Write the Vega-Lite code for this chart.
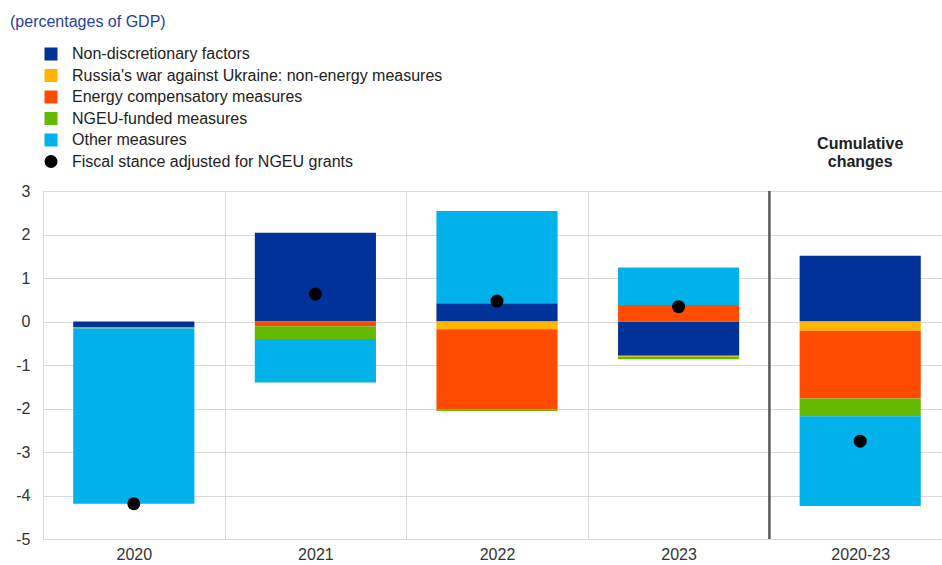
{
  "$schema": "https://vega.github.io/schema/vega-lite/v6.json",
  "width": 899,
  "height": 348,
  "autosize": {"type": "none"},
  "padding": {"left": 43, "top": 191, "right": 0, "bottom": 26},
  "title": {
    "text": "(percentages of GDP)",
    "anchor": "start",
    "frame": "group",
    "orient": "top",
    "dx": -33,
    "offset": 3,
    "fontSize": 16,
    "fontWeight": "normal",
    "font": "Liberation Sans",
    "color": "#1f3fa3",
    "baseline": "alphabetic"
  },
  "config": {
    "font": "Liberation Sans",
    "view": {"stroke": null},
    "axis": {"labelFont": "Liberation Sans", "labelFontSize": 16, "labelColor": "#333333", "gridColor": "#d9d9d9", "gridWidth": 1}
  },
  "datasets": {
    "bars": [
      {"year": "2020", "series": "Non-discretionary factors", "value": -0.13},
      {"year": "2020", "series": "NGEU-funded measures", "value": -0.03},
      {"year": "2020", "series": "Other measures", "value": -4.03},
      {"year": "2021", "series": "Non-discretionary factors", "value": 2.04},
      {"year": "2021", "series": "Energy compensatory measures", "value": -0.11},
      {"year": "2021", "series": "NGEU-funded measures", "value": -0.29},
      {"year": "2021", "series": "Other measures", "value": -1.0},
      {"year": "2022", "series": "Non-discretionary factors", "value": 0.42},
      {"year": "2022", "series": "Russia's war against Ukraine: non-energy measures", "value": -0.18},
      {"year": "2022", "series": "Energy compensatory measures", "value": -1.84},
      {"year": "2022", "series": "NGEU-funded measures", "value": -0.04},
      {"year": "2022", "series": "Other measures", "value": 2.12},
      {"year": "2023", "series": "Non-discretionary factors", "value": -0.79},
      {"year": "2023", "series": "Russia's war against Ukraine: non-energy measures", "value": -0.02},
      {"year": "2023", "series": "Energy compensatory measures", "value": 0.38},
      {"year": "2023", "series": "NGEU-funded measures", "value": -0.06},
      {"year": "2023", "series": "Other measures", "value": 0.86},
      {"year": "2020-23", "series": "Non-discretionary factors", "value": 1.51},
      {"year": "2020-23", "series": "Russia's war against Ukraine: non-energy measures", "value": -0.21},
      {"year": "2020-23", "series": "Energy compensatory measures", "value": -1.56},
      {"year": "2020-23", "series": "NGEU-funded measures", "value": -0.41},
      {"year": "2020-23", "series": "Other measures", "value": -2.06}
    ],
    "dots": [
      {"year": "2020", "series": "Fiscal stance adjusted for NGEU grants", "value": -4.19},
      {"year": "2021", "series": "Fiscal stance adjusted for NGEU grants", "value": 0.63},
      {"year": "2022", "series": "Fiscal stance adjusted for NGEU grants", "value": 0.47},
      {"year": "2023", "series": "Fiscal stance adjusted for NGEU grants", "value": 0.34},
      {"year": "2020-23", "series": "Fiscal stance adjusted for NGEU grants", "value": -2.75}
    ],
    "separator": [{"year": "2020-23", "label": "Cumulative changes", "top": 3}]
  },
  "layer": [
    {
      "data": {"name": "bars"},
      "mark": {"type": "bar", "width": {"band": 0.667}},
      "encoding": {
        "x": {
          "field": "year", "type": "nominal",
          "sort": ["2020", "2021", "2022", "2023", "2020-23"],
          "scale": {"paddingInner": 0, "paddingOuter": 0, "range": [0, 908]},
          "axis": {"title": null, "labelAngle": 0, "grid": true, "tickBand": "extent", "ticks": false, "domain": false, "labelPadding": 7}
        },
        "y": {
          "field": "value", "type": "quantitative", "stack": "zero",
          "scale": {"domain": [-5, 3], "nice": false},
          "axis": {"title": null, "values": [-5, -4, -3, -2, -1, 0, 1, 2, 3], "labelExpr": "toString(datum.value)", "ticks": false, "domain": false, "labelPadding": 13, "grid": true}
        },
        "color": {
          "field": "series", "type": "nominal",
          "scale": {
            "domain": ["Non-discretionary factors", "Russia's war against Ukraine: non-energy measures", "Energy compensatory measures", "NGEU-funded measures", "Other measures", "Fiscal stance adjusted for NGEU grants"],
            "range": ["#003299", "#ffb400", "#ff4b00", "#65b800", "#00b1ea", "#000000"]
          },
          "legend": {
            "title": null, "orient": "none", "legendX": 0, "legendY": -145, "padding": 0,
            "labelFontSize": 16, "labelColor": "#222222", "labelFont": "Liberation Sans", "labelLimit": 600,
            "symbolSize": 169, "rowPadding": 5.5, "labelOffset": 13, "symbolStrokeWidth": 0
          }
        },
        "order": {"field": "ord", "type": "quantitative"}
      }
    },
    {
      "data": {"name": "dots"},
      "mark": {"type": "point", "filled": true, "size": 169, "opacity": 1},
      "encoding": {
        "x": {"field": "year", "type": "nominal", "sort": ["2020", "2021", "2022", "2023", "2020-23"]},
        "y": {"field": "value", "type": "quantitative"},
        "color": {"field": "series", "type": "nominal"},
        "shape": {
          "field": "series", "type": "nominal",
          "scale": {
            "domain": ["Non-discretionary factors", "Russia's war against Ukraine: non-energy measures", "Energy compensatory measures", "NGEU-funded measures", "Other measures", "Fiscal stance adjusted for NGEU grants"],
            "range": ["square", "square", "square", "square", "square", "circle"]
          },
          "legend": {
            "title": null, "orient": "none", "legendX": 0, "legendY": -145, "padding": 0,
            "labelFontSize": 16, "labelColor": "#222222", "labelFont": "Liberation Sans", "labelLimit": 600,
            "symbolSize": 169, "rowPadding": 5.5, "labelOffset": 13, "symbolStrokeWidth": 0
          }
        }
      }
    },
    {
      "data": {"name": "separator"},
      "mark": {"type": "rule", "color": "#595959", "strokeWidth": 2.5},
      "encoding": {
        "x": {"field": "year", "type": "nominal", "bandPosition": 0, "sort": ["2020", "2021", "2022", "2023", "2020-23"]}
      }
    },
    {
      "data": {"name": "separator"},
      "mark": {"type": "text", "fontWeight": "bold", "fontSize": 16, "baseline": "bottom", "align": "center", "dy": -39, "lineHeight": 18, "color": "#222222", "lineBreak": " "},
      "encoding": {
        "x": {"field": "year", "type": "nominal", "sort": ["2020", "2021", "2022", "2023", "2020-23"]},
        "y": {"field": "top", "type": "quantitative"},
        "text": {"field": "label"}
      }
    }
  ]
}
